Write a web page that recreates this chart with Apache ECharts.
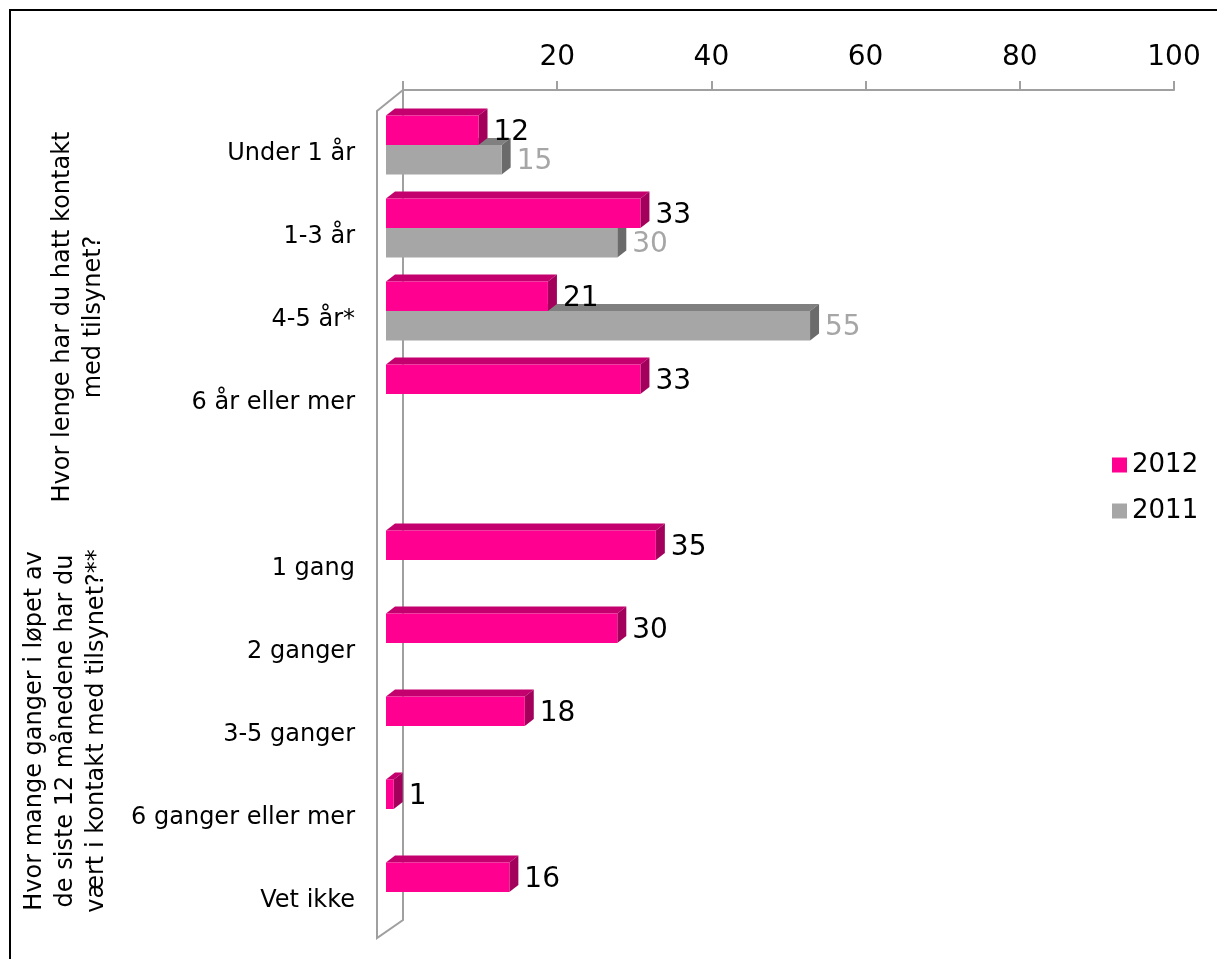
<!DOCTYPE html>
<html>
<head>
<meta charset="utf-8">
<script src="https://cdn.jsdelivr.net/npm/echarts@6/dist/echarts.min.js"></script>
<style>
  html, body { margin: 0; padding: 0; background: #fff; }
  #chart { width: 1217px; height: 959px; }
</style>
</head>
<body>
<div id="chart"></div>
<script>
// data
var categories = ['Under 1 år', '1-3 år', '4-5 år*', '6 år eller mer', '',
    '1 gang', '2 ganger', '3-5 ganger', '6 ganger eller mer', 'Vet ikke'];
var values2012 = [12, 33, 21, 33, null, 35, 30, 18, 1, 16];
var values2011 = [15, 30, 55, null, null, null, null, null, null, null];
var xTicks = [0, 20, 40, 60, 80, 100];
var groupTitles = [
    'Hvor lenge har du hatt kontakt\nmed tilsynet?',
    'Hvor mange ganger i løpet av\nde siste 12 månedene har du\nvært i kontakt med tilsynet?**'
];

var FONT = '"DejaVu Sans", Verdana, sans-serif';
var gridLeft = 403, gridTop = 103.5, gridW = 771, gridH = 830;
var DX = 9, DY = 7, SHIFT = 17;   // 3d depth of bars, offset of front plane

let toData = vals => vals.map((v, i) => v == null ? null : [v, i]).filter(d => d);

// draws one 3d bar (front, top face, side face) plus its value label
let makeRender = (slot, face, top, side, labelColor) => (params, api) => {
    let v = api.value(0), c = api.value(1);
    let p0 = api.coord([0, c]), p1 = api.coord([v, c]);
    let band = api.size([0, 1])[1];
    let h = band * 0.356;
    let x0 = p0[0] - SHIFT, x1 = p1[0] - SHIFT;
    let y0 = slot === 0 ? p0[1] - h : p0[1];
    let y1 = y0 + h;
    return {
        type: 'group',
        children: [
            { type: 'polygon', shape: { points: [[x0, y0], [x0 + DX, y0 - DY], [x1 + DX, y0 - DY], [x1, y0]] }, style: { fill: top } },
            { type: 'polygon', shape: { points: [[x1, y0], [x1 + DX, y0 - DY], [x1 + DX, y1 - DY], [x1, y1]] }, style: { fill: side } },
            { type: 'rect', shape: { x: x0, y: y0, width: x1 - x0, height: h }, style: { fill: face } },
            { type: 'text', style: { text: String(v), x: x1 + DX + 6, y: (y0 + y1) / 2 + 2, fill: labelColor,
                fontSize: 28, fontFamily: FONT, verticalAlign: 'middle', align: 'left' } }
        ]
    };
};

let frameColor = '#A0A0A0';
let axisY = gridTop - 13.5;

let option = {
    backgroundColor: '#fff',
    animation: false,
    grid: { left: gridLeft, top: gridTop, width: gridW, height: gridH, containLabel: false },
    legend: {
        orient: 'vertical',
        left: 1107,
        top: 447,
        itemWidth: 15,
        itemHeight: 15,
        itemGap: 20,
        icon: 'rect',
        data: ['2012', '2011'],
        textStyle: { fontSize: 26, fontFamily: FONT, color: '#000' }
    },
    xAxis: {
        type: 'value',
        position: 'top',
        offset: 13.5,
        min: xTicks[0],
        max: xTicks[xTicks.length - 1],
        interval: 20,
        axisLine: { show: true, lineStyle: { color: frameColor, width: 2 } },
        axisTick: { show: true, length: 9, lineStyle: { color: frameColor, width: 2 } },
        axisLabel: {
            fontSize: 28, fontFamily: FONT, color: '#000', margin: 18,
            formatter: v => v === 0 ? '' : String(v)
        },
        splitLine: { show: false }
    },
    yAxis: {
        type: 'category',
        inverse: true,
        data: categories,
        axisLine: { show: false },
        axisTick: { show: false },
        axisLabel: { fontSize: 24, fontFamily: FONT, color: '#000', margin: 48, verticalAlign: 'top', lineHeight: 18 }
    },
    graphic: [
        // outer border
        { type: 'rect', shape: { x: 10, y: 10, width: 1240, height: 1000 }, style: { fill: null, stroke: '#000', lineWidth: 2 }, silent: true },
        // 3d wall frame
        { type: 'polyline', shape: { points: [[gridLeft, axisY], [gridLeft, 920], [377, 938], [377, 111], [gridLeft, axisY]] },
          style: { stroke: frameColor, lineWidth: 2, fill: null }, z: 1 },
        { type: 'text', x: 78, y: 317, rotation: Math.PI / 2,
          style: { text: groupTitles[0], fontSize: 24, fontFamily: FONT, fill: '#000', align: 'center', verticalAlign: 'middle', lineHeight: 31 } },
        { type: 'text', x: 66, y: 731, rotation: Math.PI / 2,
          style: { text: groupTitles[1], fontSize: 24, fontFamily: FONT, fill: '#000', align: 'center', verticalAlign: 'middle', lineHeight: 31 } }
    ],
    series: [
        {
            name: '2011',
            type: 'custom',
            z: 3,
            itemStyle: { color: '#A6A6A6' },
            encode: { x: 0, y: 1 },
            renderItem: makeRender(1, '#A6A6A6', '#808080', '#6B6B6B', '#A6A6A6'),
            data: toData(values2011)
        },
        {
            name: '2012',
            type: 'custom',
            z: 4,
            itemStyle: { color: '#FF0090' },
            encode: { x: 0, y: 1 },
            renderItem: makeRender(0, '#FF0090', '#C4006E', '#A3005C', '#000'),
            data: toData(values2012)
        }
    ]
};

let mychart = echarts.init(document.getElementById('chart'));
mychart.setOption(option);
</script>
</body>
</html>
